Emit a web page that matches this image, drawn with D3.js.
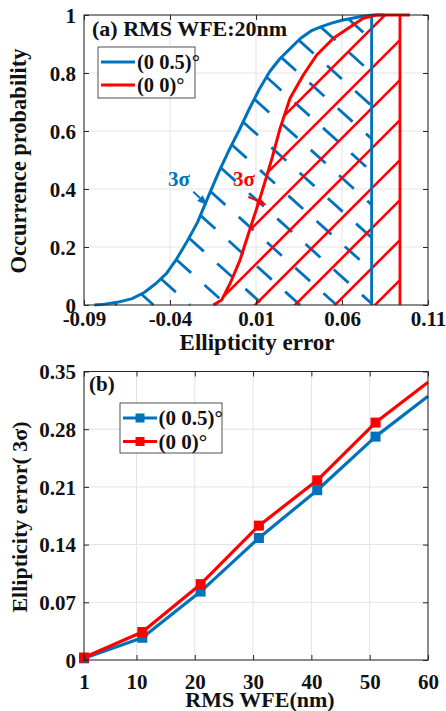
<!DOCTYPE html>
<html>
<head>
<meta charset="utf-8">
<script src="https://cdn.jsdelivr.net/npm/d3@7"></script>
<style>
  body { margin: 0; background: #fff; }
  text { font-family: "Liberation Serif", "Times New Roman", serif; font-weight: bold; fill: #111; }
</style>
</head>
<body>
<svg id="chart" width="446" height="711"></svg>
<script>
// ---------- Panel (a): cumulative occurrence probability of ellipticity error ----------
const cdfBlueX = [-0.084, -0.078, -0.070, -0.062, -0.055, -0.048, -0.042, -0.036, -0.030, -0.024,
                  -0.018, -0.012, -0.006, 0.000, 0.006, 0.012, 0.018, 0.024, 0.030, 0.036,
                  0.042, 0.048, 0.054, 0.060, 0.066, 0.072, 0.078, 0.084];
const cdfBlueY = [0, 0.003, 0.010, 0.022, 0.043, 0.075, 0.109, 0.160, 0.220, 0.285,
                  0.370, 0.454, 0.530, 0.600, 0.675, 0.745, 0.805, 0.850, 0.885, 0.920,
                  0.945, 0.960, 0.972, 0.982, 0.989, 0.996, 1.0, 1.0];
const cdfRedX = [-0.0148, -0.0100, -0.0050, 0.0007, 0.0065, 0.0120, 0.0160, 0.0195, 0.0240,
                 0.0298, 0.0375, 0.0453, 0.0550, 0.0666, 0.0724, 0.0800, 0.0995];
const cdfRedY = [0, 0.017, 0.075, 0.155, 0.262, 0.362, 0.440, 0.510, 0.609,
                 0.713, 0.793, 0.862, 0.920, 0.966, 0.989, 1.0, 1.0];
const bound3SigmaBlue = 0.0772;
const bound3SigmaRed = 0.0937;
const xTicksA = [-0.09, -0.04, 0.01, 0.06, 0.11];
const yTicksA = [0, 0.2, 0.4, 0.6, 0.8, 1];
const seriesNames = ["(0 0.5)°", "(0 0)°"];
// 3σ callouts: [label x, arrow start x, arrow start y, arrow tip x, arrow tip y]
const calloutBlue = [-0.0412, -0.0265, 0.391, -0.0184, 0.345];
const calloutRed = [-0.0034, 0.0055, 0.373, 0.0162, 0.345];

// ---------- Panel (b): 3σ ellipticity error versus RMS WFE ----------
const wfe = [1, 11, 21, 31, 41, 51, 60];
const errBlue = [0.002, 0.027, 0.083, 0.148, 0.206, 0.271, 0.320];
const errRed = [0.003, 0.034, 0.092, 0.163, 0.218, 0.288, 0.337];
const markedPoints = 6; // squares on the first six samples
const xTicksB = [1, 10, 20, 30, 40, 50, 60];
const yTicksB = [0, 0.07, 0.14, 0.21, 0.28, 0.35];

const BLUE = "#0072BD", RED = "#FF0000";
const AXIS = "#262626", GRID = "#e3e3e3";
const svg = d3.select("#chart");
const fmt = d => String(+(+d).toFixed(2));

function grid(g, x, y, W, H, xt, yt) {
  g.append("g").selectAll("line").data(xt).join("line")
    .attr("x1", d => x(d)).attr("x2", d => x(d)).attr("y1", 0).attr("y2", H)
    .attr("stroke", GRID).attr("stroke-width", 1);
  g.append("g").selectAll("line").data(yt).join("line")
    .attr("x1", 0).attr("x2", W).attr("y1", d => y(d)).attr("y2", d => y(d))
    .attr("stroke", GRID).attr("stroke-width", 1);
}

function axes(g, x, y, W, H, xt, yt, xLabelY, tickFont) {
  const ax = [
    g.append("g").attr("transform", `translate(0,${H})`).call(d3.axisBottom(x).tickValues(xt).tickSize(-5).tickFormat(fmt)),
    g.append("g").call(d3.axisLeft(y).tickValues(yt).tickSize(-5).tickFormat(fmt)),
    g.append("g").call(d3.axisTop(x).tickValues(xt).tickSize(-5).tickFormat("")),
    g.append("g").attr("transform", `translate(${W},0)`).call(d3.axisRight(y).tickValues(yt).tickSize(-5).tickFormat(""))
  ];
  ax.forEach(a => {
    a.select(".domain").remove();
    a.selectAll("line").attr("stroke", AXIS);
    a.selectAll("text").attr("font-size", tickFont).attr("fill", "#111")
      .style("font-family", '"Liberation Serif", serif').style("font-weight", "bold");
  });
  ax[0].selectAll("text").attr("y", xLabelY).attr("dy", 0);
  ax[1].selectAll("text").attr("x", -8).attr("dy", "0.34em");
  g.append("rect").attr("width", W).attr("height", H)
    .attr("fill", "none").attr("stroke", AXIS).attr("stroke-width", 1);
}

// ================= Panel (a) =================
const WA = 344, HA = 290;
const gA = svg.append("g").attr("transform", "translate(84,15)");
const xA = d3.scaleLinear().domain([-0.09, 0.11]).range([0, WA]);
const yA = d3.scaleLinear().domain([0, 1]).range([HA, 0]);
grid(gA, xA, yA, WA, HA, xTicksA, yTicksA);

const ptsBlue = cdfBlueX.map((v, i) => [xA(v), yA(cdfBlueY[i])]);
const ptsRed = cdfRedX.map((v, i) => [xA(v), yA(cdfRedY[i])]);

function curveYAt(pts, px) {
  if (px <= pts[0][0]) return pts[0][1];
  for (let i = 1; i < pts.length; i++) {
    if (px <= pts[i][0]) {
      const t = (px - pts[i - 1][0]) / (pts[i][0] - pts[i - 1][0]);
      return pts[i - 1][1] + t * (pts[i][1] - pts[i - 1][1]);
    }
  }
  return pts[pts.length - 1][1];
}

// Region under a CDF up to its 3σ bound (used to clip the hatching)
function regionPolygon(pts, xb) {
  const poly = pts.filter(p => p[0] <= xb);
  poly.push([xb, curveYAt(pts, xb)]);
  poly.push([xb, HA]);
  poly.push([pts[0][0], HA]);
  return poly;
}
const defs = svg.append("defs");
defs.append("clipPath").attr("id", "clipRed").append("polygon")
  .attr("points", regionPolygon(ptsRed, xA(bound3SigmaRed)).map(p => p.join(",")).join(" "));

// Blue dashed hatching, each stroke starting on the blue curve
const th = 42 * Math.PI / 180, sn = Math.sin(th), cs = Math.cos(th);
const xbB = xA(bound3SigmaBlue);
const hatchBlue = [];
for (let k = -12; k <= 9; k++) {
  const c = 22 + 24.5 * k;
  const lineY = px => (c + sn * px) / cs;
  const f = px => lineY(px) - curveYAt(ptsBlue, px);
  let lo = ptsBlue[0][0], hi = xbB;
  if (f(lo) >= 0 || f(hi) < 0) continue;
  for (let it = 0; it < 60; it++) {
    const mid = (lo + hi) / 2;
    if (f(mid) < 0) lo = mid; else hi = mid;
  }
  const xs = hi, ys = lineY(xs);
  if (ys > HA) continue;
  const xe = Math.min(xbB, (HA * cs - c) / sn);
  hatchBlue.push([xs, ys, xe, lineY(xe)]);
}
gA.append("g").selectAll("line").data(hatchBlue).join("line")
  .attr("x1", d => d[0]).attr("y1", d => d[1]).attr("x2", d => d[2]).attr("y2", d => d[3])
  .attr("stroke", BLUE).attr("stroke-width", 2.8).attr("stroke-dasharray", "20,18");

// Red solid hatching at 45°
const hatchRed = d3.range(-2, 11).map(k => 301 + 40 * k);
gA.append("g").attr("clip-path", "url(#clipRed)").selectAll("line").data(hatchRed).join("line")
  .attr("x1", -20).attr("y1", d => d + 20).attr("x2", WA + 20).attr("y2", d => d - WA - 20)
  .attr("stroke", RED).attr("stroke-width", 2.6);

const lineA = d3.line();
gA.append("path").attr("d", lineA(ptsBlue)).attr("fill", "none")
  .attr("stroke", BLUE).attr("stroke-width", 3).attr("stroke-linejoin", "round");
gA.append("line").attr("x1", xbB).attr("x2", xbB).attr("y1", yA(1)).attr("y2", yA(0))
  .attr("stroke", BLUE).attr("stroke-width", 2.8);
gA.append("path").attr("d", lineA(ptsRed)).attr("fill", "none")
  .attr("stroke", RED).attr("stroke-width", 3).attr("stroke-linejoin", "round");
gA.append("line").attr("x1", xA(bound3SigmaRed)).attr("x2", xA(bound3SigmaRed))
  .attr("y1", yA(1)).attr("y2", yA(0)).attr("stroke", RED).attr("stroke-width", 2.8);

axes(gA, xA, yA, WA, HA, xTicksA, yTicksA, 20.5, 21);

// 3σ callouts with arrows
function callout(cfg, color) {
  const [lx, sx, sy, tx, ty] = cfg;
  const x1 = xA(sx), y1 = yA(sy), x2 = xA(tx), y2 = yA(ty);
  const a = Math.atan2(y2 - y1, x2 - x1), L = 10, w = 4;
  const bx = x2 - L * Math.cos(a), by = y2 - L * Math.sin(a);
  gA.append("line").attr("x1", x1).attr("y1", y1).attr("x2", bx).attr("y2", by)
    .attr("stroke", color).attr("stroke-width", 2);
  gA.append("path")
    .attr("d", `M${x2},${y2}L${bx - w * Math.sin(a)},${by + w * Math.cos(a)}L${bx + w * Math.sin(a)},${by - w * Math.cos(a)}Z`)
    .attr("fill", color);
  gA.append("text").attr("x", xA(lx)).attr("y", 171).attr("font-size", 21)
    .style("fill", color).text("3σ");
}
callout(calloutBlue, BLUE);
callout(calloutRed, RED);

gA.append("text").attr("x", 8).attr("y", 21).attr("font-size", 22).text("(a) RMS WFE:20nm");

// legend (a)
const legA = svg.append("g").attr("transform", "translate(98,47)");
legA.append("rect").attr("width", 97).attr("height", 51).attr("fill", "#fff")
  .attr("stroke", AXIS).attr("stroke-width", 0.8);
[[BLUE, 15], [RED, 38]].forEach(([col, yy], i) => {
  legA.append("line").attr("x1", 3).attr("x2", 37).attr("y1", yy).attr("y2", yy)
    .attr("stroke", col).attr("stroke-width", 3);
  legA.append("text").attr("x", 39).attr("y", yy + 7).attr("font-size", 20.5).text(seriesNames[i]);
});

svg.append("text").attr("transform", "translate(26,161) rotate(-90)")
  .attr("text-anchor", "middle").attr("font-size", 22.5).text("Occurrence probability");
svg.append("text").attr("x", 257).attr("y", 350)
  .attr("text-anchor", "middle").attr("font-size", 23).text("Ellipticity error");

// ================= Panel (b) =================
const WB = 344, HB = 288.5;
const gB = svg.append("g").attr("transform", "translate(84,371.5)");
const xB = d3.scaleLinear().domain([1, 60]).range([0, WB]);
const yB = d3.scaleLinear().domain([0, 0.35]).range([HB, 0]);
grid(gB, xB, yB, WB, HB, xTicksB, yTicksB);

const lineB = d3.line().x(d => xB(d[0])).y(d => yB(d[1]));
[[errBlue, BLUE], [errRed, RED]].forEach(([vals, col]) => {
  const pts = wfe.map((w, i) => [w, vals[i]]);
  gB.append("path").attr("d", lineB(pts)).attr("fill", "none")
    .attr("stroke", col).attr("stroke-width", 3.2).attr("stroke-linejoin", "round");
  gB.append("g").selectAll("rect").data(pts.slice(0, markedPoints)).join("rect")
    .attr("x", d => xB(d[0]) - 5).attr("y", d => yB(d[1]) - 5)
    .attr("width", 10).attr("height", 10).attr("fill", col);
});

axes(gB, xB, yB, WB, HB, xTicksB, yTicksB, 28.5, 21);

gB.append("text").attr("x", 5).attr("y", 19.5).attr("font-size", 21).text("(b)");

// legend (b)
const legB = svg.append("g").attr("transform", "translate(120,403)");
legB.append("rect").attr("width", 102).attr("height", 50).attr("fill", "#fff")
  .attr("stroke", AXIS).attr("stroke-width", 0.8);
[[BLUE, 15], [RED, 38.5]].forEach(([col, yy], i) => {
  legB.append("line").attr("x1", 3).attr("x2", 37).attr("y1", yy).attr("y2", yy)
    .attr("stroke", col).attr("stroke-width", 3);
  legB.append("rect").attr("x", 15.5).attr("y", yy - 4.5).attr("width", 9).attr("height", 9).attr("fill", col);
  legB.append("text").attr("x", 38.5).attr("y", yy + 7).attr("font-size", 21).text(seriesNames[i]);
});

svg.append("text").attr("transform", "translate(27,517) rotate(-90)")
  .attr("text-anchor", "middle").attr("font-size", 22).text("Ellipticity error( 3σ)");
svg.append("text").attr("x", 260).attr("y", 706.5)
  .attr("text-anchor", "middle").attr("font-size", 22).text("RMS WFE(nm)");
</script>
</body>
</html>
